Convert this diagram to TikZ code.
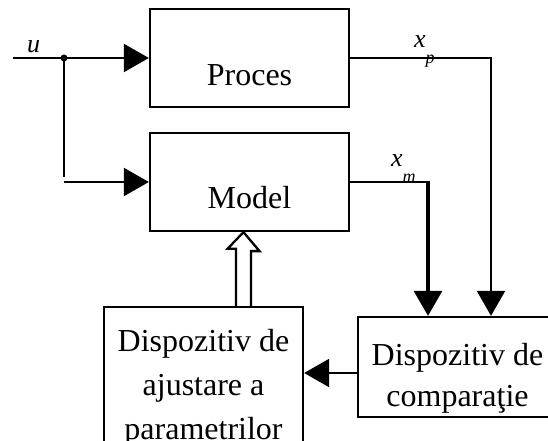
\documentclass[tikz,border=0pt]{standalone}
\usepackage{fontspec}
\setmainfont{Liberation Serif}
\usetikzlibrary{arrows.meta, positioning, calc}

\begin{document}
\begin{tikzpicture}[
    x=1pt, y=1pt,
    blk/.style={rectangle, draw, line width=2.3pt, minimum width=199pt, inner sep=0pt},
    txt/.style={font=\fontsize{32}{40}\selectfont, inner sep=0pt, align=center, anchor=base},
    sig/.style={font=\fontsize{26}{26}\selectfont\itshape, inner sep=0pt, anchor=base west},
    arr/.style={-{Triangle[length=25pt, width=28pt]}, line width=2.3pt},
    wire/.style={line width=2.3pt},
]
\useasboundingbox (0,0) rectangle (548,441);
\clip (0,0) rectangle (548,441);

% Blocks
\node[blk, minimum height=98pt] (proc) at (249.5,383) {};
\node[blk, minimum height=98pt] (model) at (249.5,259) {};
\node[blk, minimum height=100pt] (comp) at (457.5,74) {};
\node[blk, minimum height=166pt] (adj) at (203.5,51) {};

% Block texts (base = last line)
\node[txt] (proctxt) at ([yshift=-78pt]proc.north) {Proces};
\node[txt] (modeltxt) at ([yshift=-77pt]model.north) {Model};
\node[txt, font=\fontsize{32}{40.5}\selectfont] (comptxt) at ([yshift=-90.5pt]comp.north) {Dispozitiv de\\comparaţie};
\node[txt, font=\fontsize{32}{44}\selectfont] (adjtxt) at ([yshift=-134pt]adj.north) {Dispozitiv de\\ajustare a\\parametrilor};

% Input u
\coordinate (uin) at (13,383);
\coordinate (split) at (64,383);
\draw[arr] (uin) -- (proc.west);
\fill (split) circle (3.5pt);
\draw[wire] (split) -- ++(0,-119);
\draw[arr] (split |- model.west) -- (model.west);
\node[sig] (u) at (27,388) {u};

% Outputs
\coordinate (xpc) at (491,0);
\coordinate (xmc) at (428,0);
\draw[arr] (proc.east) -| (xpc |- comp.north);
\draw[wire] (model.east) -- (model.east -| xmc);
\draw[arr, line width=3.2pt] ($(model.east -| xmc)+(0,1.2)$) -- (xmc |- comp.north);
\node[sig] (xp) at (414,393) {x\raisebox{-16pt}{\fontsize{18}{18}\selectfont p}};
\node[sig] (xm) at (391,274) {x\raisebox{-16pt}{\fontsize{18}{18}\selectfont m}};

% Comparison to adjustment
\draw[arr] ([yshift=-6pt]comp.west) -- ([yshift=-6pt]comp.west -| adj.east);

% Parameter update
\draw[wire, fill=white] ($(adj.north)+(32.5,0)$) -- ++(0,57) -- ++(-8.5,0)
    -- ($(adj.north |- model.south)+(40,0)$) -- ++(16,-19) -- ++(-8.5,0)
    -- ($(adj.north)+(47.5,0)$);

\end{tikzpicture}
\end{document}
